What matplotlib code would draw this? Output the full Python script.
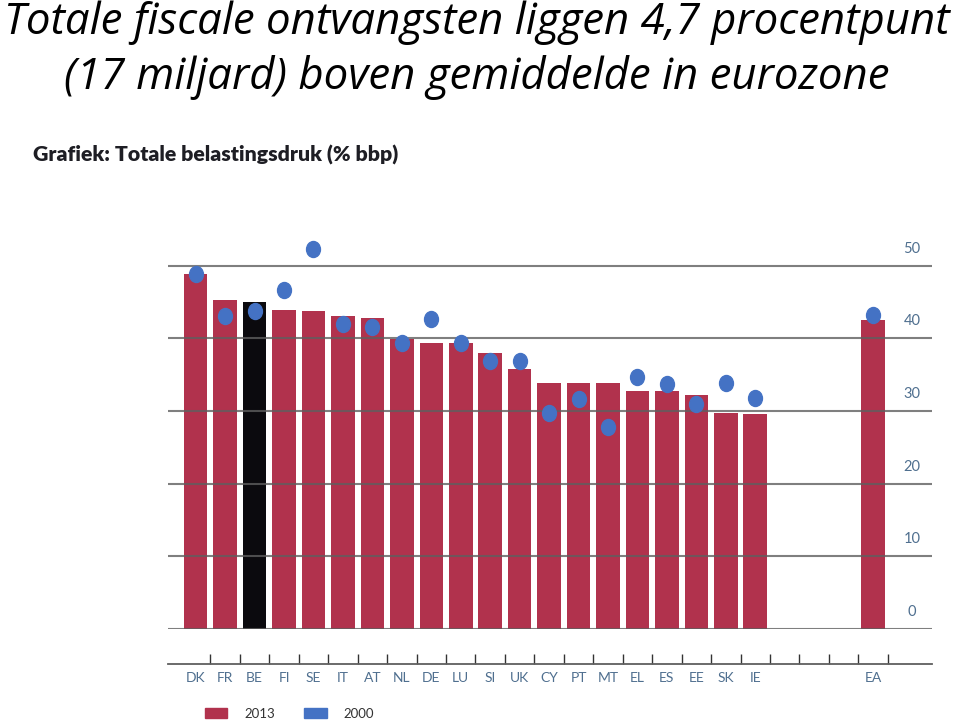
import matplotlib
matplotlib.use("Agg")
import matplotlib.pyplot as plt
import numpy as np
from matplotlib.path import Path
from matplotlib.transforms import Affine2D, ScaledTranslation
from matplotlib.patches import Patch

# data (% of GDP)
countries = ['DK', 'FR', 'BE', 'FI', 'SE', 'IT', 'AT', 'NL', 'DE', 'LU',
             'SI', 'UK', 'CY', 'PT', 'MT', 'EL', 'ES', 'EE', 'SK', 'IE', 'EA']
slots = [0, 1, 2, 3, 4, 5, 6, 7, 8, 9, 10, 11, 12, 13, 14, 15, 16, 17, 18, 19, 23]
values_2013 = [48.9, 45.3, 45.0, 43.9, 43.8, 43.1, 42.8, 39.9, 39.4, 39.4,
               37.9, 35.7, 33.9, 33.9, 33.9, 32.7, 32.7, 32.2, 29.7, 29.6, 42.5]
values_2000 = [48.9, 43.1, 43.7, 46.7, 52.3, 42.0, 41.6, 39.3, 42.7, 39.3,
               36.8, 36.8, 29.7, 31.6, 27.8, 34.7, 33.7, 31.0, 33.8, 31.8, 43.2]
y_ticks = [0, 10, 20, 30, 40, 50]

RED = '#B1324D'
BLACK = '#0b0a0e'
BLUE = '#4472C4'
GRID = '#5f5f5f'
LABEL = '#4f6f8f'
XLIM = (-0.94, 25.0)

fig = plt.figure(figsize=(9.6, 7.23), dpi=100)

# title
fig.text(0.497, 1 - 34 / 723, 'Totale fiscale ontvangsten liggen 4,7 procentpunt',
         ha='center', va='baseline', fontsize=31.5, style='italic', family='Open Sans', color='black')
fig.text(0.497, 1 - 89 / 723, '(17 miljard) boven gemiddelde in eurozone',
         ha='center', va='baseline', fontsize=31.5, style='italic', family='Open Sans', color='black')
fig.text(33 / 960, 1 - 155 / 723, 'Grafiek: Totale belastingsdruk (% bbp)',
         ha='left', va='center', fontsize=15.3, weight='heavy', family='Lato', color='#1e1e24')

ax = fig.add_axes([0.175, 0.13, 0.7958, 0.553])
colors = [BLACK if c == 'BE' else RED for c in countries]
ax.bar(slots, values_2013, width=0.8, color=colors, zorder=1)

ax.set_xlim(*XLIM)
ax.set_ylim(0, 55)
ax.set_yticks(y_ticks)
ax.set_xticks([])
ax.tick_params(axis='y', length=0, labelleft=False)
ax.grid(axis='y', color=GRID, linewidth=1.5, alpha=0.8, zorder=2)
ax.set_axisbelow(False)
for s in ax.spines.values():
    s.set_visible(False)

# slightly tall oval dots for 2000
oval = Path.unit_circle().transformed(Affine2D().scale(0.87, 1.0))
ax.plot(slots, values_2000, linestyle='none', marker=oval, markersize=11.5,
        color=BLUE, clip_on=False, zorder=3)

# value labels sit above their gridline at the right
off = ScaledTranslation(0, 0.17, fig.dpi_scale_trans)
for v in y_ticks:
    ax.text(0.974, v, str(v), transform=ax.get_yaxis_transform() + off,
            ha='center', va='center', fontsize=10.5, color=LABEL, family='Lato')

# separate category axis below the chart
ax2 = fig.add_axes([0.175, 1 - 664 / 723, 0.7958, 0.0001])
ax2.set_xlim(*XLIM)
for k, s in ax2.spines.items():
    s.set_visible(k == 'bottom')
ax2.spines['bottom'].set_color(GRID)
ax2.spines['bottom'].set_linewidth(1.3)
ax2.set_yticks([])
ax2.set_xticks([i + 0.5 for i in range(24)])
ax2.set_xticks(slots, minor=True)
ax2.set_xticklabels(countries, minor=True)
ax2.tick_params(axis='x', which='major', direction='in', length=7, width=1,
                color='#333333', labelbottom=False)
ax2.tick_params(axis='x', which='minor', length=0, pad=6, labelsize=10, labelcolor=LABEL)
for t in ax2.get_xticklabels(minor=True):
    t.set_family('Lato')

handles = [Patch(color=RED), Patch(color=BLUE)]
leg = fig.legend(handles, ['2013', '2000'], loc='center left',
                 bbox_to_anchor=(193 / 960, 1 - 714 / 723), ncol=2, frameon=False,
                 handlelength=1.7, handleheight=0.8, columnspacing=2.2, handletextpad=1.3,
                 prop={'family': 'Lato', 'size': 9.5})
for t in leg.get_texts():
    t.set_color('#333333')

fig.savefig('out.png', dpi=100)
